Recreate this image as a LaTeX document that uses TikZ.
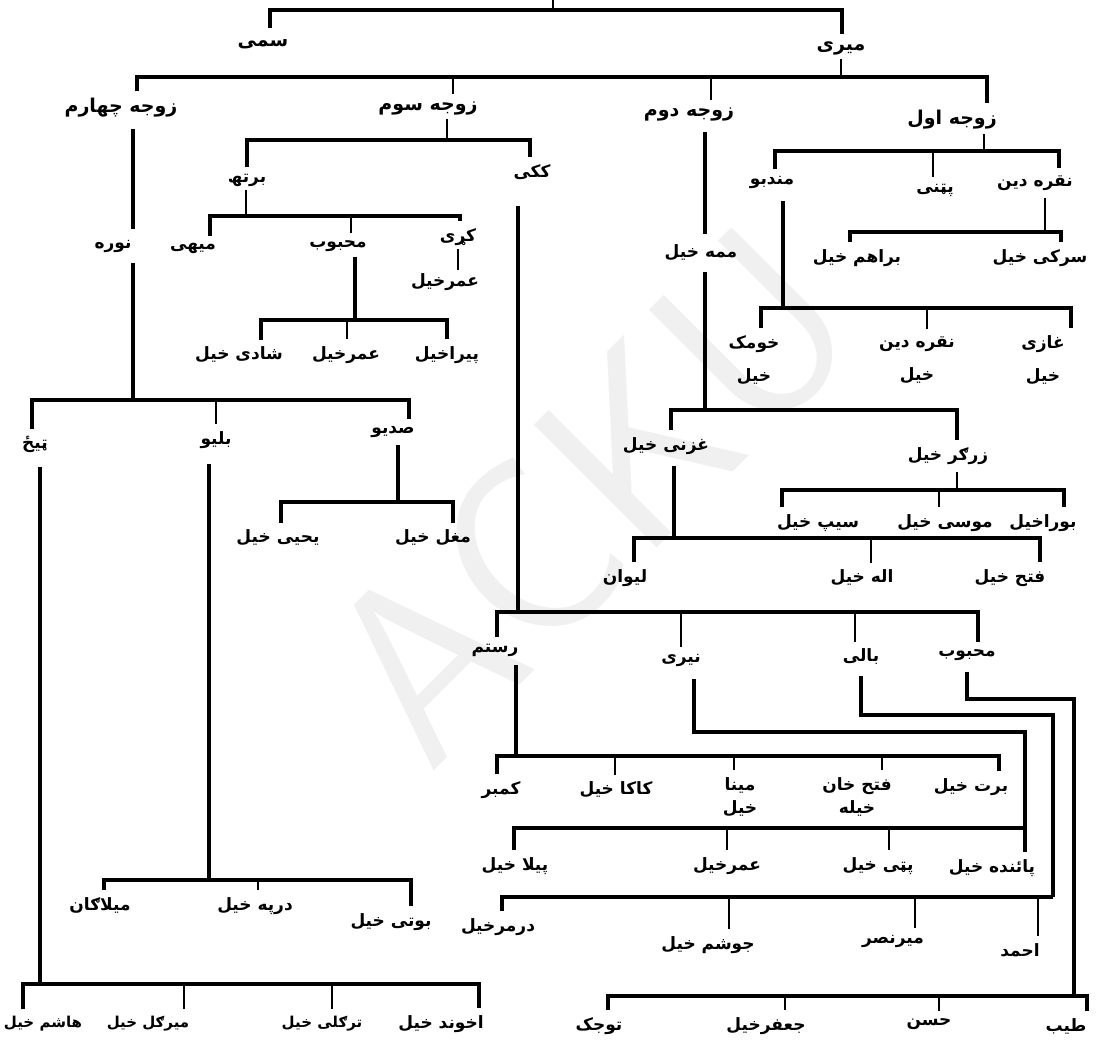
\documentclass[tikz,border=0pt]{standalone}
\usepackage{fontspec}
\newfontfamily\arabicfont[Script=Arabic]{DejaVu Sans Bold}
\TeXXeTstate=1
\newcommand{\ar}[1]{{\arabicfont\beginR #1\endR}}

\begin{document}
\begin{tikzpicture}[x=1pt, y=-1pt,
  namenode/.style={inner sep=1pt, font=\fontsize{17}{21}\selectfont},
  bignode/.style={namenode, font=\fontsize{19}{23}\selectfont},
  smallnode/.style={namenode, font=\fontsize{15}{19}\selectfont},
  twonode/.style={namenode, align=center, font=\fontsize{17}{33}\selectfont},
  tightnode/.style={namenode, align=center, font=\fontsize{17}{23}\selectfont},
  barline/.style={line width=4.5pt},
  tickline/.style={line width=2.2pt},
  ]
\useasboundingbox (0,0) rectangle (1101,1041);

\node[text=black!6, rotate=45, font=\sffamily\fontsize{250}{250}\selectfont] (mark) at (590,495) {ACKU};

% top rows
\node[bignode] (sami) at (263,44) {\ar{سمی}};
\node[bignode] (miri) at (841,48) {\ar{میری}};
\node[bignode] (wife4) at (121,108) {\ar{زوجه چهارم}};
\node[bignode] (wife3) at (428,108) {\ar{زوجه سوم}};
\node[bignode] (wife2) at (689,114) {\ar{زوجه دوم}};
\node[bignode] (wife1) at (952,120) {\ar{زوجه اول}};

% third wife
\node[namenode] (bartha) at (247,180) {\ar{برتھ}};
\node[namenode] (kaki) at (532,172) {\ar{ککی}};
\node[namenode] (mihi) at (193,248) {\ar{میهی}};
\node[namenode] (mahb1) at (338,246) {\ar{محبوب}};
\node[namenode] (kari) at (458,237) {\ar{کړی}};
\node[namenode] (umar1) at (445,282) {\ar{عمرخیل}};
\node[namenode] (shadi) at (239,355) {\ar{شادی خیل}};
\node[namenode] (umar2) at (346,355) {\ar{عمرخیل}};
\node[namenode] (pira) at (447,355) {\ar{پیراخیل}};

% fourth wife
\node[namenode] (nora) at (113,246) {\ar{نوره}};
\node[namenode] (tiz) at (35,444) {\ar{ټیځ}};
\node[namenode] (balio) at (216,440) {\ar{بلیو}};
\node[namenode] (sadio) at (393,432) {\ar{صدیو}};
\node[namenode] (yahya) at (278,538) {\ar{یحیی خیل}};
\node[namenode] (mughal) at (433,538) {\ar{مغل خیل}};
\node[namenode] (milagan) at (100,905) {\ar{میلاګان}};
\node[namenode] (darpa) at (255,906) {\ar{درپه خیل}};
\node[namenode] (boti) at (391,922) {\ar{بوتی خیل}};
\node[smallnode] (hashim) at (43,1024) {\ar{ھاشم خیل}};
\node[smallnode] (mirgul) at (148,1024) {\ar{میرګل خیل}};
\node[smallnode] (tarkali) at (322,1024) {\ar{ترګلی خیل}};
\node[namenode] (akhund) at (441,1024) {\ar{اخوند خیل}};

% kaki line
\node[namenode] (rustam) at (495,650) {\ar{رستم}};
\node[namenode] (nairi) at (681,660) {\ar{نیری}};
\node[namenode] (bali) at (861,657) {\ar{بالی}};
\node[namenode] (mahb2) at (967,655) {\ar{محبوب}};
\node[namenode] (kambar) at (501,790) {\ar{کمبر}};
\node[namenode] (kaka) at (616,790) {\ar{کاکا خیل}};
\node[tightnode] (mina) at (740,797) {\ar{مینا}\\\ar{خیل}};
\node[tightnode] (fatehkhan) at (857,797) {\ar{فتح خان}\\\ar{خیله}};
\node[namenode] (barat) at (971,787) {\ar{برت خیل}};
\node[namenode] (pila) at (515,866) {\ar{پیلا خیل}};
\node[namenode] (umar3) at (727,866) {\ar{عمرخیل}};
\node[namenode] (patti) at (878,866) {\ar{پټی خیل}};
\node[namenode] (painda) at (992,868) {\ar{پائنده خیل}};
\node[namenode] (darmar) at (498,927) {\ar{درمرخیل}};
\node[namenode] (joshim) at (708,945) {\ar{جوشم خیل}};
\node[namenode] (mirnasr) at (893,941) {\ar{میرنصر}};
\node[namenode] (ahmad) at (1020,950) {\ar{احمد}};
\node[namenode] (tojak) at (599,1026) {\ar{توجک}};
\node[namenode] (jafar) at (766,1026) {\ar{جعفرخیل}};
\node[namenode] (hasan) at (929,1024) {\ar{حسن}};
\node[namenode] (tayyib) at (1066,1026) {\ar{طیب}};

% second wife
\node[namenode] (mama) at (701,253) {\ar{ممه خیل}};
\node[namenode] (ghazni) at (666,446) {\ar{غزنی خیل}};
\node[namenode] (zargar) at (948,456) {\ar{زرګر خیل}};
\node[namenode] (saib) at (818,523) {\ar{سیپ خیل}};
\node[namenode] (musa) at (945,523) {\ar{موسی خیل}};
\node[namenode] (bora) at (1043,523) {\ar{بوراخیل}};
\node[namenode] (lewan) at (625,578) {\ar{لیوان}};
\node[namenode] (ilah) at (862,578) {\ar{اله خیل}};
\node[namenode] (fateh) at (1010,578) {\ar{فتح خیل}};

% first wife
\node[namenode] (mandu) at (772,182) {\ar{مندبو}};
\node[namenode] (pattani) at (935,190) {\ar{پټنی}};
\node[namenode] (nuqra) at (1035,183) {\ar{نقره دین}};
\node[namenode] (braham) at (857,258) {\ar{براهم خیل}};
\node[namenode] (sarki) at (1040,258) {\ar{سرکی خیل}};
\node[twonode] (khomak) at (754,360) {\ar{خومک}\\\ar{خیل}};
\node[twonode] (nuqkhel) at (917,360) {\ar{نقره دین}\\\ar{خیل}};
\node[twonode] (ghazi) at (1043,360) {\ar{غازی}\\\ar{خیل}};

% bar ends
\coordinate (root) at (553,0);
\coordinate (topC) at (553,10);
\coordinate (topL) at (270,10);
\coordinate (topR) at (842,10);
\coordinate (wL) at (137,77);
\coordinate (w3) at (453,77);
\coordinate (w2) at (711,77);
\coordinate (wR) at (987,77);
\coordinate (sL) at (247,140);
\coordinate (sC) at (447,140);
\coordinate (sR) at (530,140);
\coordinate (bL) at (210,216);
\coordinate (bC) at (246,216);
\coordinate (bM) at (351,216);
\coordinate (bR) at (460,216);
\coordinate (mL) at (261,320);
\coordinate (mC) at (355,320);
\coordinate (mM) at (347,320);
\coordinate (mR) at (447,320);
\coordinate (nL) at (32,400);
\coordinate (nC) at (133,400);
\coordinate (nM) at (216,400);
\coordinate (nR) at (409,400);
\coordinate (dL) at (281,502);
\coordinate (dC) at (398,502);
\coordinate (dR) at (453,502);
\coordinate (lL) at (104,880);
\coordinate (lC) at (209,880);
\coordinate (lM) at (258,880);
\coordinate (lR) at (411,880);
\coordinate (tL) at (23,984);
\coordinate (tC) at (40,984);
\coordinate (tM1) at (184,984);
\coordinate (tM2) at (332,984);
\coordinate (tR) at (479,984);
\coordinate (kL) at (497,612);
\coordinate (kC) at (518,612);
\coordinate (kM1) at (681,612);
\coordinate (kM2) at (855,612);
\coordinate (kR) at (978,612);
\coordinate (rL) at (497,756);
\coordinate (rC) at (516,756);
\coordinate (rM1) at (615,756);
\coordinate (rM2) at (734,756);
\coordinate (rM3) at (882,756);
\coordinate (rR) at (999,756);
\coordinate (nyK) at (1025,732);
\coordinate (nyL) at (514,828);
\coordinate (nyM1) at (727,828);
\coordinate (nyM2) at (889,828);
\coordinate (nyR) at (1025,828);
\coordinate (baK) at (1053,715);
\coordinate (baL) at (502,897);
\coordinate (baM1) at (729,897);
\coordinate (baM2) at (915,897);
\coordinate (baM3) at (1038,897);
\coordinate (baR) at (1053,897);
\coordinate (mbK) at (1074,699);
\coordinate (mbL) at (608,996);
\coordinate (mbM1) at (785,996);
\coordinate (mbM2) at (939,996);
\coordinate (mbR) at (1087,996);
\coordinate (gL) at (671,410);
\coordinate (gC) at (705,410);
\coordinate (gR) at (957,410);
\coordinate (zL) at (782,490);
\coordinate (zC) at (957,490);
\coordinate (zM) at (939,490);
\coordinate (zR) at (1064,490);
\coordinate (hL) at (634,538);
\coordinate (hC) at (674,538);
\coordinate (hM) at (871,538);
\coordinate (hR) at (1040,538);
\coordinate (aL) at (775,151);
\coordinate (aC) at (984,151);
\coordinate (aM) at (933,151);
\coordinate (aR) at (1059,151);
\coordinate (qL) at (850,232);
\coordinate (qC) at (1045,232);
\coordinate (qR) at (1061,232);
\coordinate (uL) at (761,308);
\coordinate (uC) at (783,308);
\coordinate (uM) at (927,308);
\coordinate (uR) at (1071,308);

% root and wives
\draw[tickline] (root) -- (topC);
\draw[barline] ([yshift=10pt]sami.north -| topL) -- (topL) -- (topR) -- ([yshift=6pt]miri.north -| topR);
\draw[tickline] ([yshift=-3pt]miri.south) -- (miri.south |- wL);
\draw[barline] ([yshift=6pt]wife4.north -| wL) -- (wL) -- (wR) -- ([yshift=6pt]wife1.north -| wR);
\draw[tickline] (w3) -- ([yshift=6pt]wife3.north -| w3);
\draw[tickline] (w2) -- ([yshift=6pt]wife2.north -| w2);

% third wife
\draw[tickline] ([yshift=-3pt]wife3.south -| sC) -- (sC);
\draw[barline] ([yshift=6pt]bartha.north -| sL) -- (sL) -- (sR) -- ([yshift=6pt]kaki.north -| sR);
\draw[tickline] ([yshift=-3pt]bartha.south -| bC) -- (bC);
\draw[barline] ([yshift=6pt]mihi.north -| bL) -- (bL) -- (bR) -- ([yshift=6pt]kari.north -| bR);
\draw[tickline] (bM) -- ([yshift=6pt]mahb1.north -| bM);
\draw[tickline] ([yshift=-2pt]kari.south) -- ([yshift=2pt]kari.south |- umar1.north);
\draw[barline] ([yshift=-4pt]mahb1.south -| mC) -- (mC);
\draw[barline] ([yshift=6pt]shadi.north -| mL) -- (mL) -- (mR) -- ([yshift=6pt]pira.north -| mR);
\draw[tickline] (mM) -- ([yshift=6pt]umar2.north -| mM);

% fourth wife
\draw[barline] ([yshift=-10pt]wife4.south -| nC) -- ([yshift=10pt]nora.north -| nC);
\draw[barline] ([yshift=-10pt]nora.south -| nC) -- (nC);
\draw[barline] ([yshift=6pt]tiz.north -| nL) -- (nL) -- (nR) -- ([yshift=6pt]sadio.north -| nR);
\draw[tickline] (nM) -- ([yshift=6pt]balio.north -| nM);
\draw[barline] ([yshift=-6pt]sadio.south -| dC) -- (dC);
\draw[barline] ([yshift=6pt]yahya.north -| dL) -- (dL) -- (dR) -- ([yshift=6pt]mughal.north -| dR);
\draw[barline] ([yshift=-14pt]balio.south -| lC) -- (lC);
\draw[barline] ([yshift=6pt]milagan.north -| lL) -- (lL) -- (lR) -- ([yshift=6pt]boti.north -| lR);
\draw[tickline] (lM) -- ([yshift=6pt]darpa.north -| lM);
\draw[barline] ([yshift=-14pt]tiz.south -| tC) -- (tC);
\draw[barline] ([yshift=6pt]hashim.north -| tL) -- (tL) -- (tR) -- ([yshift=6pt]akhund.north -| tR);
\draw[tickline] (tM1) -- ([yshift=6pt]mirgul.north -| tM1);
\draw[tickline] (tM2) -- ([yshift=6pt]tarkali.north -| tM2);

% kaki
\draw[barline] ([yshift=-25pt]kaki.south -| kC) -- (kC);
\draw[barline] ([yshift=6pt]rustam.north -| kL) -- (kL) -- (kR) -- ([yshift=6pt]mahb2.north -| kR);
\draw[tickline] (kM1) -- ([yshift=6pt]nairi.north -| kM1);
\draw[tickline] (kM2) -- ([yshift=6pt]bali.north -| kM2);
\draw[barline] ([yshift=-8pt]rustam.south -| rC) -- (rC);
\draw[barline] ([yshift=6pt]kambar.north -| rL) -- (rL) -- (rR) -- ([yshift=6pt]barat.north -| rR);
\draw[tickline] (rM1) -- ([yshift=6pt]kaka.north -| rM1);
\draw[tickline] (rM2) -- ([yshift=6pt]mina.north -| rM2);
\draw[tickline] (rM3) -- ([yshift=6pt]fatehkhan.north -| rM3);
\draw[barline] ([xshift=13pt,yshift=-12pt]nairi.south) |- (nyK) -- ([yshift=6pt]painda.north -| nyK);
\draw[barline] ([yshift=6pt]pila.north -| nyL) -- (nyL) -- (nyR);
\draw[tickline] (nyM1) -- ([yshift=6pt]umar3.north -| nyM1);
\draw[tickline] (nyM2) -- ([yshift=6pt]patti.north -| nyM2);
\draw[barline] ([yshift=-10pt]bali.south) |- (baK) -- (baR);
\draw[barline] ([yshift=6pt]darmar.north -| baL) -- (baL) -- (baR);
\draw[tickline] (baM1) -- ([yshift=6pt]joshim.north -| baM1);
\draw[tickline] (baM2) -- ([yshift=6pt]mirnasr.north -| baM2);
\draw[tickline] (baM3) -- ([yshift=6pt]ahmad.north -| baM3);
\draw[barline] ([yshift=-10pt]mahb2.south) |- (mbK) -- (mbK |- mbR);
\draw[barline] ([yshift=6pt]tojak.north -| mbL) -- (mbL) -- (mbR) -- ([yshift=6pt]tayyib.north -| mbR);
\draw[tickline] (mbM1) -- ([yshift=6pt]jafar.north -| mbM1);
\draw[tickline] (mbM2) -- ([yshift=6pt]hasan.north -| mbM2);

% second wife
\draw[barline] ([yshift=-10pt]wife2.south -| gC) -- ([yshift=10pt]mama.north -| gC);
\draw[barline] ([yshift=-10pt]mama.south -| gC) -- (gC);
\draw[barline] ([yshift=6pt]ghazni.north -| gL) -- (gL) -- (gR) -- ([yshift=6pt]zargar.north -| gR);
\draw[tickline] ([yshift=-6pt]zargar.south -| zC) -- (zC);
\draw[barline] ([yshift=6pt]saib.north -| zL) -- (zL) -- (zR) -- ([yshift=6pt]bora.north -| zR);
\draw[tickline] (zM) -- ([yshift=6pt]musa.north -| zM);
\draw[barline] ([yshift=-10pt]ghazni.south -| hC) -- (hC);
\draw[barline] ([yshift=6pt]lewan.north -| hL) -- (hL) -- (hR) -- ([yshift=6pt]fateh.north -| hR);
\draw[tickline] (hM) -- ([yshift=6pt]ilah.north -| hM);

% first wife
\draw[tickline] ([yshift=-3pt]wife1.south -| aC) -- (aC);
\draw[barline] ([yshift=6pt]mandu.north -| aL) -- (aL) -- (aR) -- ([yshift=6pt]nuqra.north -| aR);
\draw[tickline] (aM) -- ([yshift=6pt]pattani.north -| aM);
\draw[tickline] ([yshift=-6pt]nuqra.south -| qC) -- (qC);
\draw[barline] ([yshift=6pt]braham.north -| qL) -- (qL) -- (qR) -- ([yshift=6pt]sarki.north -| qR);
\draw[barline] ([yshift=-12pt]mandu.south -| uC) -- (uC);
\draw[barline] ([yshift=6pt]khomak.north -| uL) -- (uL) -- (uR) -- ([yshift=6pt]ghazi.north -| uR);
\draw[tickline] (uM) -- ([yshift=6pt]nuqkhel.north -| uM);

\end{tikzpicture}
\end{document}
